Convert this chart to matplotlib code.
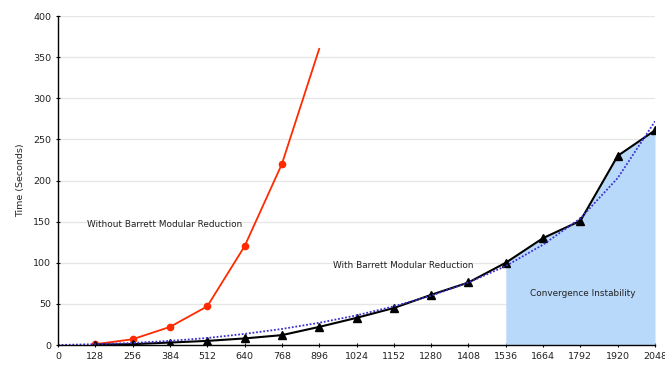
import numpy as np
import matplotlib.pyplot as plt

# k-bit sizes
kbits = [0, 128, 256, 384, 512, 640, 768, 896, 1024, 1152, 1280,
         1408, 1536, 1664, 1792, 1920, 2048]

# without Barrett (128..896)
kbits_without = [128, 256, 384, 512, 640, 768, 896]
time_without = [1, 7, 22, 47, 120, 220, 360]

# with Barrett (128..2048)
kbits_with = kbits[1:]
time_with = [0.5, 1, 3, 5, 8, 12, 22, 33, 45, 61, 76, 100, 130, 151, 230, 261]

# dotted trend line
trend = [0, 1, 2.5, 5, 8.5, 13.5, 19.5, 27, 36, 47, 60, 76, 96, 122,
         154, 203, 272]

unstable_from = 1536

fig = plt.figure(figsize=(6.65, 3.83), dpi=100)
ax = fig.add_axes([0.0872, 0.0992, 0.8978, 0.8590])

# shaded region under the curve
kw = np.array(kbits_with)
tw = np.array(time_with)
mask = kw >= unstable_from
ax.fill_between(kw[mask], 0, tw[mask], color='#b9d9fb', lw=0, zorder=1)

ax.plot(kbits_without, time_without, color='#ff2a00', lw=1.3,
        marker='o', ms=4.5, markevery=list(range(len(kbits_without) - 1)),
        zorder=3)
ax.plot(kbits_with, time_with, color='black', lw=1.5,
        marker='^', ms=5.5, zorder=3)
ax.plot(kbits, trend, color='#3a2fd0', lw=1.3, ls=(0, (1, 1)), zorder=4)

ax.text(367, 147, 'Without Barrett Modular Reduction', fontsize=6.4,
        ha='center', va='center', color='#222222')
ax.text(1184, 97, 'With Barrett Modular Reduction', fontsize=6.4,
        ha='center', va='center', color='#222222')
ax.text(1801, 63, 'Convergence Instability', fontsize=6.4,
        ha='center', va='center', color='#222222')

ax.set_xlim(0, 2048)
ax.set_ylim(0, 400)
ax.set_xticks(kbits)
ax.set_yticks(range(0, 401, 50))
ax.tick_params(labelsize=6.8, length=3, width=0.8, colors='black',
               labelcolor='#222222', direction='inout')
ax.grid(True, axis='y', color='#e6e6e6', lw=0.9)
ax.set_axisbelow(True)
for s in ['top', 'right']:
    ax.spines[s].set_visible(False)
for s in ['left', 'bottom']:
    ax.spines[s].set_linewidth(1.0)
    ax.spines[s].set_zorder(5)

ax.set_xlabel('k-Bits', fontsize=6.8, color='#222222', labelpad=16)
ax.set_ylabel('Time (Seconds)', fontsize=6.8, color='#222222', labelpad=6)

plt.savefig('out.png', dpi=100)
